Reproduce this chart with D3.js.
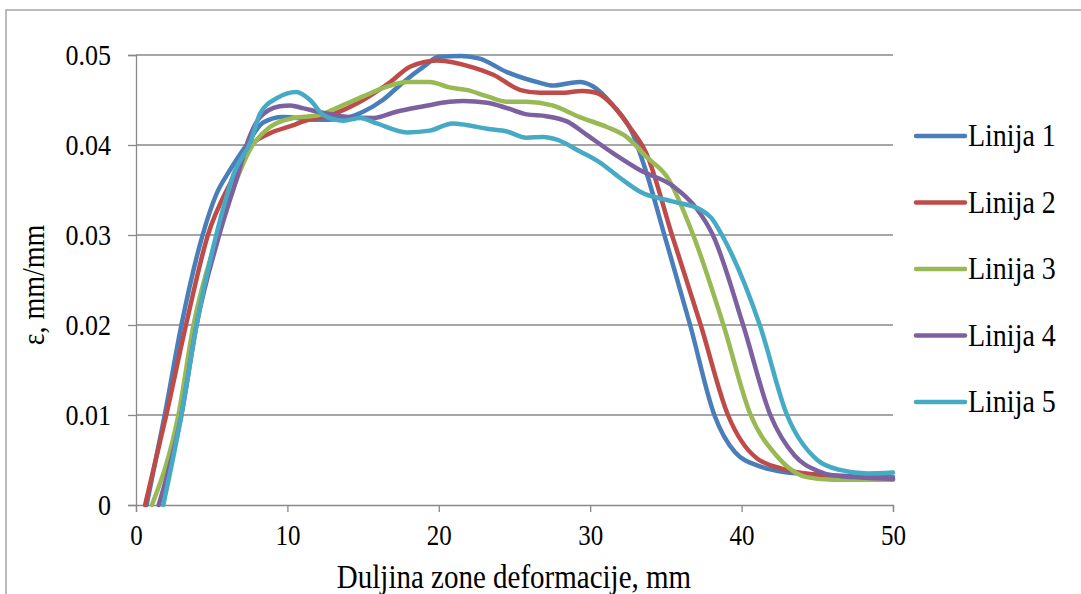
<!DOCTYPE html>
<html><head><meta charset="utf-8">
<script src="https://cdn.jsdelivr.net/npm/d3@7"></script>
<style>body{margin:0;background:#fff}svg{display:block}</style>
</head><body>
<svg id="c" width="1081" height="594"></svg>
<script>
const seriesNames = ["Linija 1","Linija 2","Linija 3","Linija 4","Linija 5"];
const colors = ["#4A7EBB","#BE4B48","#98B954","#7D60A0","#46AAC5"];
const xTicks = [0,10,20,30,40,50];
const yTicks = [0,0.01,0.02,0.03,0.04,0.05];
const yTickLabels = ["0","0.01","0.02","0.03","0.04","0.05"];

const line1X = [0.7,1.9,3.0,4.4,5.3,6.2,7.3,8.4,9.7,12,13.5,15,16.3,17.6,19,20,21.5,22.7,24.5,26.7,27.5,29.3,30.2,31.5,32.8,33.7,34.9,36.6,38.2,39.6,41.2,42.7,45,50];
const line1Y = [0,0.01,0.02,0.03,0.0345,0.0372,0.040,0.0425,0.0431,0.0428,0.0429,0.0437,0.045,0.0469,0.0487,0.0498,0.0499,0.0496,0.0481,0.0469,0.0466,0.047,0.0465,0.0444,0.0413,0.037,0.030,0.020,0.010,0.0058,0.0043,0.0037,0.0034,0.0031];

const line2X = [0.6,2.0,3.3,4.75,6.3,7.5,8.85,10.4,11,12.8,15,16.8,18.1,19.9,22.3,23.6,25.4,26.7,28,29.5,30.4,31.5,32.6,33.7,35.4,37.3,39.1,41,43,46,50];
const line2Y = [0,0.01,0.02,0.03,0.036,0.0398,0.0413,0.0422,0.0426,0.0433,0.045,0.047,0.0487,0.0494,0.0486,0.0478,0.0461,0.0458,0.0458,0.046,0.0458,0.0444,0.042,0.0391,0.030,0.020,0.010,0.0052,0.0039,0.0032,0.0029];

const line3X = [1.05,2.8,3.8,5.4,6.5,7.6,8.85,10.4,12,13.5,15,16.6,17.9,19.4,20.7,21.9,23.2,24.5,25.8,27.5,29.3,31.1,32.4,33.7,35.1,36.8,38.8,40.6,42.3,44.3,46,50];
const line3Y = [0,0.01,0.02,0.03,0.0355,0.0397,0.042,0.043,0.0433,0.0443,0.0454,0.0465,0.047,0.047,0.0464,0.0461,0.0454,0.0448,0.0448,0.0444,0.0431,0.042,0.0409,0.0387,0.0364,0.030,0.020,0.010,0.0055,0.0031,0.0028,0.0028];

const line4X = [1.5,3.0,4.0,5.5,6.6,7.5,8.2,9.5,10.2,11,12.6,14.1,15.7,17.2,19,20.7,21.6,23.2,24.5,25.8,27.1,28.5,29.8,31.5,33.3,35.5,37.0,38.1,40.1,41.9,43.5,45,46,50];
const line4Y = [0,0.01,0.02,0.03,0.036,0.0409,0.0431,0.0443,0.0444,0.0441,0.0435,0.0431,0.043,0.0437,0.0443,0.0448,0.0449,0.0447,0.0441,0.0434,0.0432,0.0426,0.0411,0.0391,0.0372,0.0354,0.0330,0.030,0.020,0.010,0.0055,0.0038,0.0033,0.0029];

const line5X = [1.8,3.0,4.0,5.3,6.5,7.6,8.2,9.3,10.6,11.5,12.4,13.7,14.8,15.9,17.9,19.4,20.9,21.9,23.2,24.5,25.8,26.9,27.8,29.3,30.6,32,33.3,35.5,37.3,38.0,38.7,41.2,43,45,46.5,48.3,50];
const line5Y = [0,0.01,0.02,0.03,0.037,0.0405,0.0435,0.0452,0.0459,0.045,0.0433,0.0427,0.043,0.0424,0.0414,0.0416,0.0424,0.0422,0.0418,0.0415,0.0408,0.0409,0.0406,0.0393,0.0381,0.0363,0.0348,0.0337,0.0328,0.0319,0.030,0.020,0.010,0.005,0.0039,0.0035,0.0036];

const xs = [line1X,line2X,line3X,line4X,line5X];
const ys = [line1Y,line2Y,line3Y,line4Y,line5Y];

const svg = d3.select("#c");
const font = "'Liberation Serif','Times New Roman',serif";
const SY = 1.15;
svg.append("rect").attr("x",6).attr("y",10).attr("width",1100).attr("height",620)
  .attr("fill","none").attr("stroke","#a6a6a6").attr("stroke-width",1.5);

const x = d3.scaleLinear().domain([0,50]).range([136,893]);
const y = d3.scaleLinear().domain([0,0.05]).range([505,55]);

svg.append("g").selectAll("line").data(yTicks.slice(1)).join("line")
  .attr("x1",136).attr("x2",893).attr("y1",d=>y(d)).attr("y2",d=>y(d))
  .attr("stroke","#898989").attr("stroke-width",1.3);

const gx = svg.append("g").attr("transform","translate(0,505)")
  .call(d3.axisBottom(x).tickValues(xTicks).tickSize(7).tickPadding(10).tickFormat(d3.format("d")));
const gy = svg.append("g").attr("transform","translate(136,0)")
  .call(d3.axisLeft(y).tickValues(yTicks).tickSize(8).tickPadding(17).tickFormat((d,i)=>yTickLabels[i]));
[gx,gy].forEach(g=>{
  g.select(".domain").attr("stroke","#898989").attr("stroke-width",1.3);
  g.selectAll(".tick line").attr("stroke","#898989").attr("stroke-width",1.3);
  g.selectAll("text").attr("font-family",font).attr("fill","#000");
});
gx.selectAll("text").attr("font-size",25).attr("transform",`scale(1,${SY})`);
gy.selectAll("text").attr("font-size",26).attr("transform",`scale(1,${SY})`);

const lineGen = d3.line().x(d=>x(d[0])).y(d=>y(d[1])).curve(d3.curveMonotoneX);
seriesNames.forEach((n,i)=>{
  const pts = xs[i].map((v,j)=>[v,ys[i][j]]);
  svg.append("path").datum(pts).attr("d",lineGen).attr("fill","none")
    .attr("stroke",colors[i]).attr("stroke-width",4.5).attr("stroke-linejoin","round").attr("stroke-linecap","round");
});

const leg = svg.append("g");
seriesNames.forEach((n,i)=>{
  const yy = 136 + i*66.5;
  leg.append("line").attr("x1",916).attr("x2",965).attr("y1",yy).attr("y2",yy)
    .attr("stroke",colors[i]).attr("stroke-width",4.5).attr("stroke-linecap","round");
  leg.append("text").attr("transform",`translate(968,${yy+10}) scale(1,${SY})`).text(n)
    .attr("font-family",font).attr("font-size",28).attr("fill","#000");
});

svg.append("text").attr("transform",`translate(514,588) scale(1,${SY})`).attr("text-anchor","middle")
  .attr("font-family",font).attr("font-size",29).text("Duljina zone deformacije, mm");
svg.append("text").attr("transform",`translate(44,285) rotate(-90) scale(1,${SY})`).attr("text-anchor","middle")
  .attr("font-family",font).attr("font-size",28).text("ε, mm/mm");
</script>
</body></html>
